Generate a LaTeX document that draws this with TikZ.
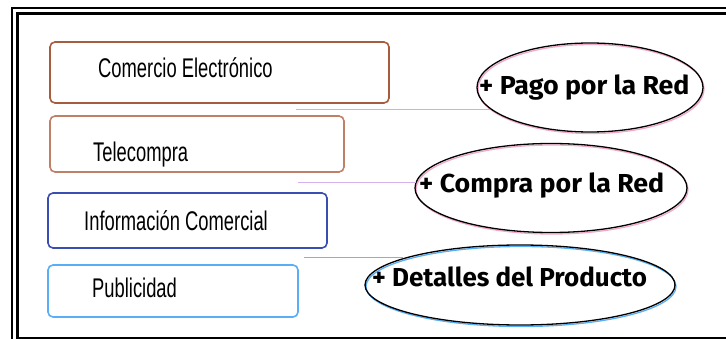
\documentclass[tikz,border=0pt]{standalone}
\usepackage{fontspec}
\setmainfont{Liberation Sans}
\newfontfamily\ellfont{Fira Sans}
\usetikzlibrary{shapes.geometric}
\definecolor{brownA}{HTML}{A85C3E}
\definecolor{brownB}{HTML}{C08068}
\definecolor{blueA}{HTML}{3A4DB0}
\definecolor{blueB}{HTML}{5AAEF5}
\definecolor{pinkS}{HTML}{F4A8C8}
\definecolor{lineA}{HTML}{F8A898}
\definecolor{lineB}{HTML}{D8B0F0}
\definecolor{lineC}{HTML}{70B8F0}
\tikzset{
  box/.style={draw, line width=1.6pt, rounded corners=5pt, rectangle},
  boxtext/.style={anchor=base west, inner sep=0pt, font=\fontsize{27}{27}\selectfont},
  ell/.style={ellipse, draw=black, line width=1.3pt, inner sep=0pt},
  ellshadow/.style={ellipse, draw, line width=1.3pt, inner sep=0pt},
  elltext/.style={anchor=base west, inner sep=0pt, font=\ellfont\bfseries\fontsize{26}{26}\selectfont},
  conn/.style={line width=1pt}
}
\begin{document}
\begin{tikzpicture}[x=1pt,y=-1pt]
\useasboundingbox (0,0) rectangle (726,339);
% frame
\draw[line width=2pt] (12,8.5) rectangle (800,345);
\draw[line width=2.6pt] (17.5,13.5) rectangle (795,338);
% boxes
\node[box, draw=brownA, minimum width=339pt, minimum height=61pt] (b1) at (219.5,72.5) {};
\node[box, draw=brownB, minimum width=294pt, minimum height=56pt] (b2) at (197,144) {};
\node[box, draw=blueA, minimum width=279pt, minimum height=55pt] (b3) at (187.5,220.5) {};
\node[box, draw=blueB, minimum width=250pt, minimum height=52pt] (b4) at (173,291) {};
\node[boxtext] (t1) at (98,78) {\scalebox{0.68}[1]{Comercio Electrónico}};
\node[boxtext] (t2) at (93,162) {\scalebox{0.68}[1]{Telecompra}};
\node[boxtext] (t3) at (84,231) {\scalebox{0.68}[1]{Información Comercial}};
\node[boxtext] (t4) at (92,298) {\scalebox{0.68}[1]{Publicidad}};
% ellipses
\node[ellshadow, draw=pinkS, minimum width=226pt, minimum height=89pt] (p1s) at (591,89) {};
\node[ell, minimum width=226pt, minimum height=89pt] (p1) at (590,87.5) {};
\node[ellshadow, draw=pinkS, minimum width=272pt, minimum height=89pt] (p2s) at (552,189.5) {};
\node[ell, minimum width=272pt, minimum height=89pt] (p2) at (551,188) {};
\node[ellshadow, draw=blueB, minimum width=310pt, minimum height=80pt] (p3s) at (521,286.5) {};
\node[ell, minimum width=310pt, minimum height=80pt] (p3) at (520,285) {};
\node[elltext] (e1) at (479,95) {\scalebox{1.03}[1]{+ Pago por la Red}};
\node[elltext] (e2) at (419,193) {\scalebox{1.03}[1]{+ Compra por la Red}};
\node[elltext] (e3) at (372,287) {\scalebox{1.0}[1]{+ Detalles del Producto}};
% connectors
\coordinate (c1) at (296,110);
\coordinate (c2) at (298,183);
\coordinate (c3) at (304,258);
\draw[conn, draw=lineA] (c1) -- (c1 -| p1.192);
\draw[conn, draw=lineB] (c2) -- (c2 -| p2.177);
\draw[conn, draw=lineC] (c3) -- (c3 -| p3.167);
\end{tikzpicture}
\end{document}
